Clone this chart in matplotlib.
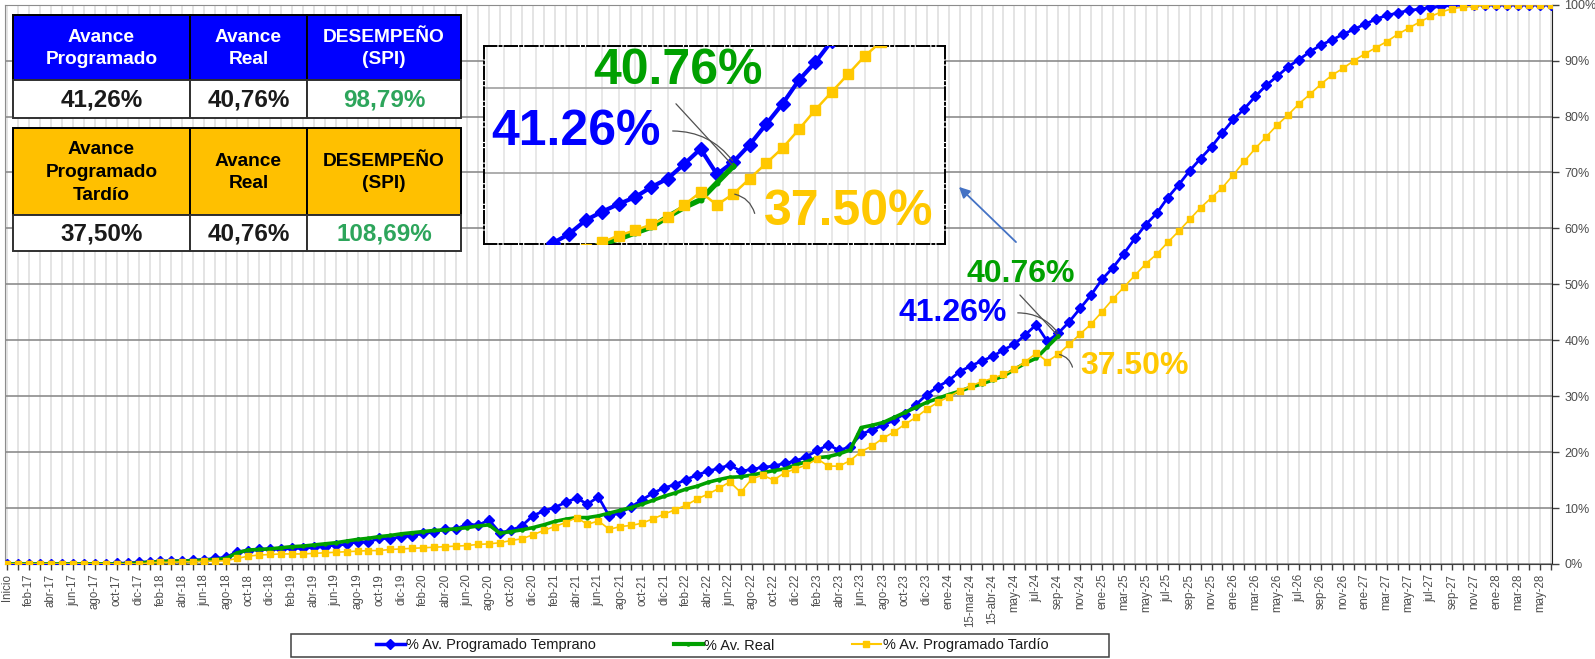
import numpy as np
import matplotlib

matplotlib.use("Agg")
import matplotlib.pyplot as plt
from matplotlib.lines import Line2D
from matplotlib.patches import Rectangle
from matplotlib.ticker import FuncFormatter

plt.rcParams["font.family"] = ["Liberation Sans", "DejaVu Sans"]

# --- categories (monthly, with a few irregular cut-off dates in 2024) ---
MESES = ["ene", "feb", "mar", "abr", "may", "jun", "jul", "ago", "sep", "oct", "nov", "dic"]
cats_2017_2023 = [f"{m}-{y}" for y in range(17, 24) for m in MESES]
cats_2024_irreg = ["15-dic-23", "ene-24", "feb-24", "15-mar-24", "31-mar-24", "15-abr-24", "30-abr-24"]
cats_tail = [f"{MESES[(4 + k) % 12]}-{24 + (4 + k) // 12}" for k in range(50)]  # may-24 .. jun-28
categorias = ["Inicio"] + cats_2017_2023 + cats_2024_irreg + cats_tail

# --- series (% acumulado) ---
programado_temprano = [
    0, 0, 0, 0, 0, 0, 0, 0, 0, 0,
    0.1, 0.2, 0.3, 0.4, 0.5, 0.6, 0.6, 0.7, 0.8, 1.0,
    1.2, 2.2, 2.4, 2.6, 2.7, 2.6, 2.8, 2.8, 3.0, 3.1,
    3.4, 3.5, 4.0, 3.9, 4.6, 4.5, 4.9, 5.0, 5.5, 5.7,
    6.3, 6.2, 7.2, 6.9, 7.9, 5.6, 6.0, 6.8, 8.6, 9.5,
    10.1, 11.0, 11.8, 10.7, 12.0, 8.5, 9.2, 10.2, 11.5, 12.7,
    13.6, 14.2, 15.1, 15.9, 16.6, 17.1, 17.7, 16.6, 16.9, 17.3,
    17.5, 18.0, 18.4, 19.2, 20.3, 21.3, 20.3, 21.0, 23.2, 24.0,
    24.8, 25.7, 26.9, 28.5, 30.3, 31.7, 32.8, 34.4, 35.4, 36.3,
    37.1, 38.3, 39.3, 41.0, 42.8, 39.8, 41.26, 43.3, 45.7, 48.1,
    50.9, 53.0, 55.5, 58.2, 60.7, 62.7, 65.5, 67.8, 70.3, 72.5,
    74.6, 77.1, 79.5, 81.4, 83.6, 85.6, 87.2, 88.9, 90.2, 91.6,
    92.8, 93.7, 94.7, 95.6, 96.5, 97.4, 98.1, 98.5, 99.0, 99.2,
    99.5, 99.7, 99.9, 100, 100, 100, 100, 100, 100, 100,
    100, 100,
]
avance_real = [
    0, 0, 0, 0, 0, 0, 0, 0, 0, 0, 0, 0,
    0.2, 0.3, 0.4, 0.5, 0.5, 0.6, 0.7, 0.8, 1.0, 2.0,
    2.5, 2.6, 2.7, 2.9, 3.1, 3.2, 3.4, 3.6, 3.8, 4.1,
    4.4, 4.6, 4.9, 5.1, 5.4, 5.6, 5.8, 6.0, 6.1, 6.3,
    6.5, 6.8, 7.0,
    5.5, 5.8, 6.1, 6.5, 7.0, 7.6, 8.0, 8.3, 8.3, 8.6,
    9.1, 9.6, 10.1, 10.7, 11.4, 12.1, 12.7, 13.4, 13.9, 14.6,
    15.1, 15.5, 15.6, 15.9, 16.3, 16.7, 17.0, 17.7, 18.3, 19.0,
    19.2, 19.7, 20.4, 24.4, 24.8, 25.3, 26.2, 27.1, 28.0, 28.9,
    29.6, 30.3, 30.9, 31.6, 32.2, 32.9, 33.6, 34.8, 35.9, 36.8,
    38.8, 40.76,
] + [np.nan] * 45
programado_tardio = [
    0, 0, 0, 0, 0, 0, 0, 0, 0, 0, 0, 0, 0,
    0.2, 0.3, 0.3, 0.4, 0.4, 0.5, 0.5, 0.6, 1.0,
    1.4, 1.6, 1.7, 1.8, 1.8, 1.8, 1.9, 2.0, 2.1, 2.2,
    2.3, 2.4, 2.4, 2.6, 2.7, 2.8, 2.9, 3.0, 3.1, 3.2,
    3.3, 3.5, 3.6, 3.8, 4.2,
    4.5, 5.2, 6.0, 6.7, 7.4, 8.3, 7.1, 7.7, 6.2, 6.7,
    6.9, 7.3, 8.1, 8.9, 9.7, 10.5, 11.6, 12.5, 13.5, 14.7,
    12.8, 15.2, 15.9, 15.0, 16.3, 17.0, 17.7, 18.8, 17.5, 17.5,
    18.5, 20.1, 21.1, 22.5, 23.6, 25.0, 26.2, 27.7, 28.9, 29.9,
    31.0, 31.8, 32.6, 33.2, 33.9, 34.8, 36.2, 37.7, 36.2, 37.5,
    39.3, 41.1, 42.9, 45.1, 47.4, 49.5, 51.6, 53.7, 55.4, 57.5,
    59.5, 61.6, 63.7, 65.5, 67.3, 69.6, 72.0, 74.3, 76.4, 78.5,
    80.3, 82.3, 84.0, 85.8, 87.4, 88.6, 90.0, 91.2, 92.3, 93.4,
    94.7, 95.8, 96.9, 97.9, 98.7, 99.3, 99.6, 99.7, 99.9, 100,
    100, 100, 100, 100, 100,
]
nombres_series = ["% Av. Programado Temprano", "% Av. Real", "% Av. Programado Tardío"]

# corte actual
idx_corte = 96
etiquetas_corte = ["41.26%", "40.76%", "37.50%"]

# --- tablas de desempeño ---
tabla_temprano_enc = ["Avance\nProgramado", "Avance\nReal", "DESEMPEÑO\n(SPI)"]
tabla_temprano_val = ["41,26%", "40,76%", "98,79%"]
tabla_tardio_enc = ["Avance\nProgramado\nTardío", "Avance\nReal", "DESEMPEÑO\n(SPI)"]
tabla_tardio_val = ["37,50%", "40,76%", "108,69%"]

AZUL = "#0000FF"
VERDE = "#00A000"
AMARILLO = "#FFC800"
VERDE_SPI = "#2DA55B"
GRIS_TXT = "#4d4d4d"

W, H = 1595, 659
fig = plt.figure(figsize=(W / 100, H / 100), dpi=100)
fig.patch.set_facecolor("white")

x = np.arange(len(categorias))


def draw_series(ax, scale=1.0):
    ax.plot(x, programado_temprano, color=AZUL, lw=2.0 * scale, marker="D", ms=5.0 * scale,
            zorder=3, label=nombres_series[0])
    ax.plot(x, avance_real, color=VERDE, lw=2.6 * scale, marker="o", ms=2.2 * scale,
            zorder=4, label=nombres_series[1])
    ax.plot(x, programado_tardio, color=AMARILLO, lw=1.2 * scale, marker="s", ms=4.6 * scale,
            zorder=5, label=nombres_series[2])


def draw_callouts(ax, fs):
    vals = [programado_temprano[idx_corte], avance_real[idx_corte], programado_tardio[idx_corte]]
    colors = [AZUL, VERDE, AMARILLO]
    text_pos = [(86.4, 44.8), (92.6, 51.9), (103.0, 35.4)]
    line_start = [(92.3, 44.9), (92.5, 48.1), (97.3, 35.2)]
    rads = [-0.25, 0.0, 0.3]
    for v, c, tp, ls, r, lab in zip(vals, colors, text_pos, line_start, rads, etiquetas_corte):
        ax.text(tp[0], tp[1], lab, color=c, fontsize=fs, fontweight="bold",
                ha="center", va="center", zorder=8)
        ax.annotate("", xy=(idx_corte, v), xytext=ls,
                    arrowprops=dict(arrowstyle="-", color="#505050", lw=0.9,
                                    shrinkA=0, shrinkB=1,
                                    connectionstyle=f"arc3,rad={r}"),
                    zorder=7)


# --- main chart ---
ax = fig.add_axes([5 / W, 1 - 564 / H, (1552 - 5) / W, (564 - 4.7) / H])
draw_series(ax)
ax.set_xticks(x)
ax.set_xticklabels([c if i % 2 == 0 else "" for i, c in enumerate(categorias)])
ax.set_yticks(range(0, 101, 10))
ax.set_xlim(-0.2, 141.1)
ax.set_ylim(0, 100)
ax.yaxis.set_major_formatter(FuncFormatter(lambda v, _p: f"{v:.0f}%"))
ax.yaxis.tick_right()
ax.grid(axis="y", color="#8c8c8c", lw=1.2)
ax.grid(axis="x", color="#dcdcdc", lw=1.1)
ax.set_axisbelow(True)
ax.tick_params(axis="x", direction="out", length=4, width=1, color="#404040",
               labelsize=8.3, labelrotation=90, labelcolor=GRIS_TXT, pad=3)
ax.tick_params(axis="y", direction="out", length=5, width=1, color="#404040",
               labelsize=9, labelcolor=GRIS_TXT, pad=4)
for s in ("top", "left"):
    ax.spines[s].set_color("#8c8c8c")
ax.spines["bottom"].set_color("#404040")
ax.spines["right"].set_color("#202020")
draw_callouts(ax, 23)

# --- zoomed inset ---
axin = fig.add_axes([484 / W, 1 - 244 / H, 461 / W, 198 / H])
axin.set_facecolor("white")
draw_series(axin, scale=1.5)
axin.set_xticks(x)
axin.set_yticks([40, 50])
axin.set_xlim(80.8, 108.9)
axin.set_ylim(31.6, 54.9)
axin.grid(axis="y", color="#a0a0a0", lw=1.2)
axin.grid(axis="x", color="#e2e2e2", lw=1.1)
axin.set_axisbelow(True)
axin.tick_params(left=False, bottom=False, labelleft=False, labelbottom=False)
for s in axin.spines.values():
    s.set_linestyle("-.")
    s.set_color("black")
    s.set_linewidth(1.4)
draw_callouts(axin, 36)

# --- overlay (pixel space) for tables, arrow and legend frame ---
ov = fig.add_axes([0, 0, 1, 1])
ov.set_xlim(0, W)
ov.set_ylim(H, 0)
ov.axis("off")
ov.patch.set_alpha(0)

cols = [13, 190, 307, 461]


def draw_table(y0, y_head, y1, headers, values, fill, head_color):
    for j in range(3):
        w = cols[j + 1] - cols[j]
        ov.add_patch(Rectangle((cols[j], y0), w, y_head - y0, fc=fill, ec="black", lw=1.4))
        ov.add_patch(Rectangle((cols[j], y_head), w, y1 - y_head, fc="white", ec="#303030", lw=1.4))
        cx = cols[j] + w / 2
        ov.text(cx, (y0 + y_head) / 2 + 1, headers[j], color=head_color, fontsize=13.8,
                fontweight="bold", ha="center", va="center", linespacing=1.45)
        ov.text(cx, (y_head + y1) / 2 + 1, values[j], color=VERDE_SPI if j == 2 else "#1a1a1a",
                fontsize=17.5, fontweight="bold", ha="center", va="center")


draw_table(15, 80, 118, tabla_temprano_enc, tabla_temprano_val, AZUL, "white")
draw_table(128, 215, 251, tabla_tardio_enc, tabla_tardio_val, "#FFC000", "black")

ov.annotate("", xy=(957, 185), xytext=(1018, 244),
            arrowprops=dict(arrowstyle="-|>", color="#4472C4", lw=1.3, mutation_scale=16))

# legend
ov.add_patch(Rectangle((291, 634), 818, 23, fc="white", ec="#404040", lw=1.1))
handles = [
    Line2D([], [], color=AZUL, lw=2.5, marker="D", ms=5),
    Line2D([], [], color=VERDE, lw=3, marker="o", ms=2.2),
    Line2D([], [], color=AMARILLO, lw=1.5, marker="s", ms=4.6),
]
fig.legend(handles, nombres_series, loc="center", bbox_to_anchor=(712 / W, 1 - 645.5 / H),
           ncol=3, frameon=False, fontsize=10.5, handlelength=2.0, handletextpad=0.1,
           columnspacing=5.3, numpoints=1, labelcolor="#1a1a1a")

fig.savefig("out.png", dpi=100, facecolor="white")
